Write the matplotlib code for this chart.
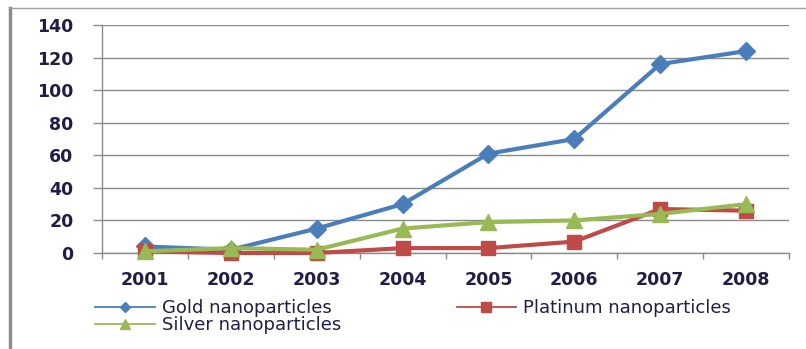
import matplotlib.pyplot as plt
from matplotlib.lines import Line2D

years = ["2001", "2002", "2003", "2004", "2005", "2006", "2007", "2008"]
gold = [4, 2, 15, 30, 61, 70, 116, 124]
platinum = [1, 0, 0, 3, 3, 7, 27, 26]
silver = [1, 3, 2, 15, 19, 20, 24, 30]
yticks = [0, 20, 40, 60, 80, 100, 120, 140]

blue = "#4A7EBB"
red = "#BE4B48"
green = "#98B954"
grid_c = "#8A8A8A"
text_c = "#1E1E48"

W, H = 806, 349
fig = plt.figure(figsize=(W / 100, H / 100), dpi=100)
ax = fig.add_axes([102 / W, 1 - 253 / H, (789 - 102) / W, (253 - 25) / H])

x = list(range(len(years)))
ax.plot(x, gold, color=blue, lw=3, marker="D", ms=9, clip_on=False, zorder=3)
ax.plot(x, platinum, color=red, lw=3, marker="s", ms=9.5, clip_on=False, zorder=4)
ax.plot(x, silver, color=green, lw=3, marker="^", ms=11, clip_on=False, zorder=5)

ax.set_xlim(-0.5, len(years) - 0.5)
ax.set_ylim(0, 140)
ax.set_yticks(yticks)
ax.set_yticklabels([str(v) for v in yticks], fontsize=12.5, fontweight="bold", color=text_c)
ax.set_xticks(x)
ax.set_xticklabels(years, fontsize=12.5, fontweight="bold", color=text_c)
ax.set_xticks([i - 0.5 for i in range(len(years) + 1)], minor=True)

ax.tick_params(axis="y", length=6.5, width=1, color=grid_c, pad=14)
ax.tick_params(axis="x", which="major", length=0, pad=13)
ax.tick_params(axis="x", which="minor", length=4.5, width=1, color=grid_c)
ax.grid(axis="y", color=grid_c, lw=1)
ax.set_axisbelow(True)
for side in ["top", "right"]:
    ax.spines[side].set_visible(False)
for side in ["left", "bottom"]:
    ax.spines[side].set_color(grid_c)
    ax.spines[side].set_linewidth(1)

handles = [
    Line2D([], [], color=blue, lw=1.3, marker="D", ms=5.5),
    Line2D([], [], color=green, lw=1.3, marker="^", ms=7.5),
    Line2D([], [], color=red, lw=1.3, marker="s", ms=6.5),
]
labels = ["Gold nanoparticles", "Silver nanoparticles", "Platinum nanoparticles"]
leg = fig.legend(handles, labels, ncol=2, loc="upper left",
                 bbox_to_anchor=(95 / W, 1 - 299 / H), frameon=False,
                 fontsize=13, handlelength=3.3, handletextpad=0.4,
                 columnspacing=6.4, labelspacing=-0.05, borderpad=0,
                 borderaxespad=0)
for t in leg.get_texts():
    t.set_color(text_c)

# chart frame
fig.add_artist(Line2D([10 / W, 10 / W], [0, 1 - 8 / H], color="#8C8C8C", lw=2.5))
fig.add_artist(Line2D([10 / W, 1], [1 - 8 / H, 1 - 8 / H], color="#A0A0A0", lw=1))

fig.savefig("out.png", dpi=100)
